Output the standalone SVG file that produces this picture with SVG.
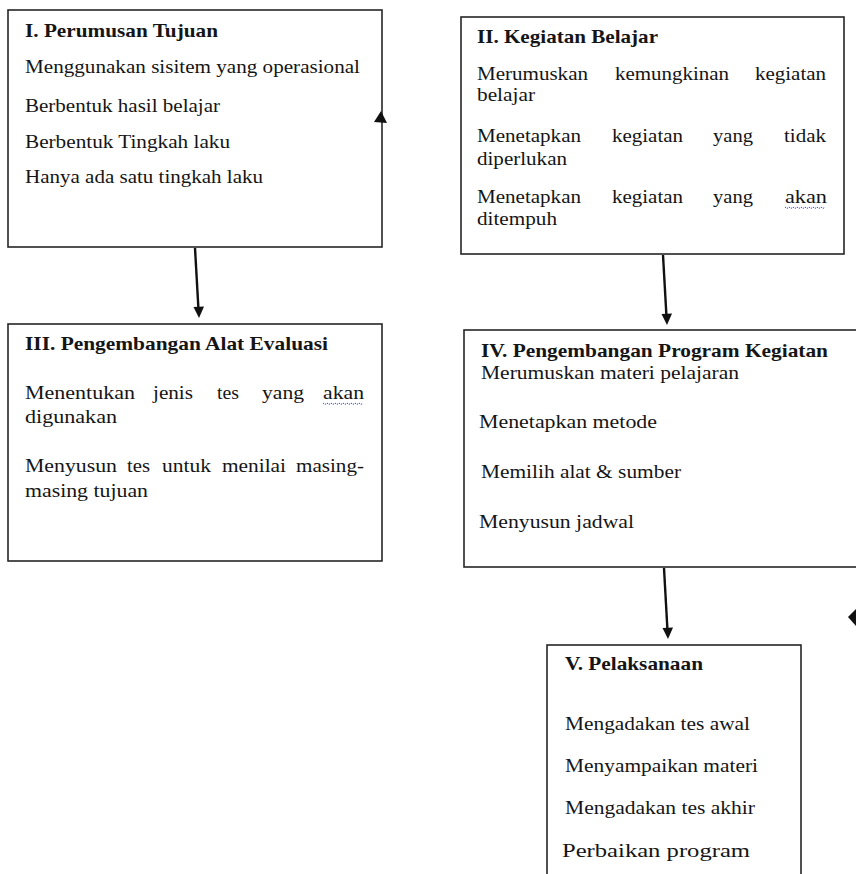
<svg xmlns="http://www.w3.org/2000/svg" width="856" height="874" viewBox="0 0 856 874" font-family="Liberation Serif, serif">
  <style>
    .box { fill: #ffffff; stroke: #262626; stroke-width: 1.6; }
    text { font-family: 'Liberation Serif', 'Times New Roman', Times, serif; font-size: 19.5px; fill: #151515; }
    .h { font-weight: bold; }
    .edge { stroke: #111111; stroke-width: 2.4; fill: none; }
    .head { fill: #111111; }
    .spell { stroke: #2f4fd8; stroke-width: 1; fill: none; stroke-dasharray: 1.5 1; }
  </style>
  <rect x="0" y="0" width="856" height="874" fill="#ffffff"/>

  <!-- I. Perumusan Tujuan -->
  <g id="node-perumusan">
    <rect class="box" x="8" y="10" width="374" height="237"/>
    <text class="h" x="25" y="37" textLength="193" lengthAdjust="spacingAndGlyphs">I. Perumusan Tujuan</text>
    <text x="25" y="73" textLength="335" lengthAdjust="spacingAndGlyphs">Menggunakan sisitem yang operasional</text>
    <text x="25" y="112" textLength="195" lengthAdjust="spacingAndGlyphs">Berbentuk hasil belajar</text>
    <text x="25" y="148" textLength="205" lengthAdjust="spacingAndGlyphs">Berbentuk Tingkah laku</text>
    <text x="25" y="183" textLength="238" lengthAdjust="spacingAndGlyphs">Hanya ada satu tingkah laku</text>
  </g>

  <!-- II. Kegiatan Belajar -->
  <g id="node-kegiatan">
    <rect class="box" x="461" y="17" width="383" height="237"/>
    <text class="h" x="477" y="43" textLength="181" lengthAdjust="spacingAndGlyphs">II. Kegiatan Belajar</text>
    <text x="477" y="80" textLength="111" lengthAdjust="spacingAndGlyphs">Merumuskan</text>
    <text x="615" y="80" textLength="114" lengthAdjust="spacingAndGlyphs">kemungkinan</text>
    <text x="755" y="80" textLength="71" lengthAdjust="spacingAndGlyphs">kegiatan</text>
    <text x="477" y="101" textLength="58" lengthAdjust="spacingAndGlyphs">belajar</text>
    <text x="477" y="142" textLength="104" lengthAdjust="spacingAndGlyphs">Menetapkan</text>
    <text x="612" y="142" textLength="71" lengthAdjust="spacingAndGlyphs">kegiatan</text>
    <text x="713" y="142" textLength="40" lengthAdjust="spacingAndGlyphs">yang</text>
    <text x="784" y="142" textLength="42" lengthAdjust="spacingAndGlyphs">tidak</text>
    <text x="477" y="165" textLength="90" lengthAdjust="spacingAndGlyphs">diperlukan</text>
    <text x="477" y="203" textLength="104" lengthAdjust="spacingAndGlyphs">Menetapkan</text>
    <text x="612" y="203" textLength="71" lengthAdjust="spacingAndGlyphs">kegiatan</text>
    <text x="713" y="203" textLength="40" lengthAdjust="spacingAndGlyphs">yang</text>
    <text x="785" y="203" textLength="42" lengthAdjust="spacingAndGlyphs">akan</text>
    <path class="spell" d="M785 207 l2 1.5 l2 -1.5 l2 1.5 l2 -1.5 l2 1.5 l2 -1.5 l2 1.5 l2 -1.5 l2 1.5 l2 -1.5 l2 1.5 l2 -1.5 l2 1.5 l2 -1.5 l2 1.5 l2 -1.5 l2 1.5 l2 -1.5 l2 1.5 l2 -1.5"/>
    <text x="477" y="225" textLength="80" lengthAdjust="spacingAndGlyphs">ditempuh</text>
  </g>

  <!-- III. Pengembangan Alat Evaluasi -->
  <g id="node-evaluasi">
    <rect class="box" x="8" y="324" width="374" height="237"/>
    <text class="h" x="25" y="350" textLength="303" lengthAdjust="spacingAndGlyphs">III. Pengembangan Alat Evaluasi</text>
    <text x="25" y="399" textLength="110" lengthAdjust="spacingAndGlyphs">Menentukan</text>
    <text x="153" y="399" textLength="40" lengthAdjust="spacingAndGlyphs">jenis</text>
    <text x="217" y="399" textLength="22" lengthAdjust="spacingAndGlyphs">tes</text>
    <text x="262" y="399" textLength="42" lengthAdjust="spacingAndGlyphs">yang</text>
    <text x="323" y="399" textLength="41" lengthAdjust="spacingAndGlyphs">akan</text>
    <path class="spell" d="M323 403 l2 1.5 l2 -1.5 l2 1.5 l2 -1.5 l2 1.5 l2 -1.5 l2 1.5 l2 -1.5 l2 1.5 l2 -1.5 l2 1.5 l2 -1.5 l2 1.5 l2 -1.5 l2 1.5 l2 -1.5 l2 1.5 l2 -1.5 l2 1.5 l2 -1.5"/>
    <text x="25" y="423" textLength="92" lengthAdjust="spacingAndGlyphs">digunakan</text>
    <text x="25" y="472" textLength="92" lengthAdjust="spacingAndGlyphs">Menyusun</text>
    <text x="127" y="472" textLength="23" lengthAdjust="spacingAndGlyphs">tes</text>
    <text x="162" y="472" textLength="49" lengthAdjust="spacingAndGlyphs">untuk</text>
    <text x="222" y="472" textLength="64" lengthAdjust="spacingAndGlyphs">menilai</text>
    <text x="296" y="472" textLength="68" lengthAdjust="spacingAndGlyphs">masing-</text>
    <text x="25" y="497" textLength="123" lengthAdjust="spacingAndGlyphs">masing tujuan</text>
  </g>

  <!-- IV. Pengembangan Program Kegiatan -->
  <g id="node-program">
    <rect class="box" x="464" y="330" width="400" height="237"/>
    <text class="h" x="481" y="357" textLength="347" lengthAdjust="spacingAndGlyphs">IV. Pengembangan Program Kegiatan</text>
    <text x="481" y="379" textLength="258" lengthAdjust="spacingAndGlyphs">Merumuskan materi pelajaran</text>
    <text x="479" y="428" textLength="178" lengthAdjust="spacingAndGlyphs">Menetapkan metode</text>
    <text x="481" y="478" textLength="200" lengthAdjust="spacingAndGlyphs">Memilih alat &amp; sumber</text>
    <text x="479" y="528" textLength="155" lengthAdjust="spacingAndGlyphs">Menyusun jadwal</text>
  </g>

  <!-- V. Pelaksanaan -->
  <g id="node-pelaksanaan">
    <rect class="box" x="547" y="645" width="254" height="240"/>
    <text class="h" x="565" y="670" textLength="138" lengthAdjust="spacingAndGlyphs">V. Pelaksanaan</text>
    <text x="565" y="730" textLength="185" lengthAdjust="spacingAndGlyphs">Mengadakan tes awal</text>
    <text x="565" y="772" textLength="193" lengthAdjust="spacingAndGlyphs">Menyampaikan materi</text>
    <text x="565" y="814" textLength="190" lengthAdjust="spacingAndGlyphs">Mengadakan tes akhir</text>
    <text x="562" y="857" textLength="188" lengthAdjust="spacingAndGlyphs">Perbaikan program</text>
  </g>

  <!-- connectors -->
  <g id="connectors">
    <line class="edge" x1="195" y1="248" x2="198.5" y2="310"/>
    <polygon class="head" points="199,318 193.5,307 204,306.5"/>

    <line class="edge" x1="663" y1="255" x2="666.5" y2="317"/>
    <polygon class="head" points="667,325 661.5,314 672,313.5"/>

    <line class="edge" x1="664" y1="568" x2="667.5" y2="631"/>
    <polygon class="head" points="668,639 662.5,628 673,627.5"/>

    <!-- loose arrowheads on the right -->
    <polygon class="head" points="381,111 374,122 387,123"/>
    <polygon class="head" points="848,617 856,609 856,626"/>
  </g>
</svg>
